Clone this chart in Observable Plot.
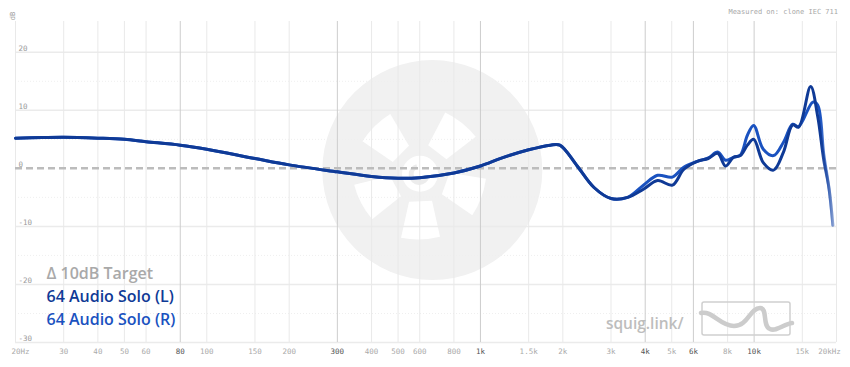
<!DOCTYPE html>
<html><head><meta charset="utf-8">
<script src="https://cdn.jsdelivr.net/npm/d3@7"></script>
<script src="https://cdn.jsdelivr.net/npm/@observablehq/plot@0.6"></script>
<style>
html,body{margin:0;padding:0;background:#fff;}
#chart{position:relative;width:850px;height:367px;overflow:hidden;}
</style>
</head><body><div id="chart"></div>
<script>
// ---- data ----
const sharedFreq = [20,25,30,40,50,60,80,100,150,200,300,400,500,600,800,1000,1200,1500,1800,1950,2250,2600,3000,3450];
const sharedDb   = [5.2,5.3,5.35,5.2,5.0,4.6,4.0,3.3,1.7,0.6,-0.6,-1.4,-1.7,-1.6,-0.8,0.4,1.8,3.2,4.0,4.0,0.5,-3.3,-5.2,-5.0];

const hiFreqL = [3940,4440,5030,5530,6200,6800,7360,7860,8410,8910,9450,9960,10800,11780,12800,13830,14540,16090,17070,17960,18800,19400];
const hiDbL   = [-3.6,-2.1,-2.9,-0.2,1.2,1.7,2.6,0.4,1.9,2.2,4.0,5.0,1.0,-0.3,2.8,7.5,7.1,14.1,9.0,1.5,-3.6,-9.8];

const hiFreqR = [3940,4440,5030,5530,6200,6800,7360,7860,8410,8910,9450,9960,10800,11780,12800,13830,14540,16380,17070,17960,18800,19400];
const hiDbR   = [-2.9,-1.2,-1.5,0.2,1.2,1.8,2.8,1.4,1.9,2.3,5.7,7.4,3.3,2.2,4.5,7.6,7.2,11.4,10.9,2.5,-3.6,-9.8];

const xTicks      = [20,30,40,50,60,80,100,150,200,300,400,500,600,800,1000,1500,2000,3000,4000,5000,6000,8000,10000,15000,20000];
const xTickLabels = ["20Hz","30","40","50","60","80","100","150","200","300","400","500","600","800","1k","1.5k","2k","3k","4k","5k","6k","8k","10k","15k","20kHz"];
const xMajor      = [80,300,1000,4000,6000,10000];
const yTicks      = [20,10,0,-10,-20,-30];
const yMinor      = [15,5,-5,-15,-25];

const legendNames  = ["\u0394 10dB Target","64 Audio Solo (L)","64 Audio Solo (R)"];
const legendColors = ["#a9a9a9","#0f3a96","#1a52c0"];
const colorL = "#0f3a96", colorR = "#1a52c0";

// ---- build ----
const L = sharedFreq.map((f,i)=>({f, d:sharedDb[i]})).concat(hiFreqL.map((f,i)=>({f, d:hiDbL[i]})));
const R = sharedFreq.map((f,i)=>({f, d:sharedDb[i]})).concat(hiFreqR.map((f,i)=>({f, d:hiDbR[i]})));
const ticks = xTicks.map((v,i)=>({v, label:xTickLabels[i], major:xMajor.includes(v), i}));
const mono = "DejaVu Sans Mono, monospace";
const sans = "Open Sans, Noto Sans, sans-serif";

const chart = Plot.plot({
  width: 850, height: 367,
  marginLeft: 15, marginRight: 14, marginTop: 21, marginBottom: 25,
  x: {type: "log", domain: [20, 20000], axis: null},
  y: {domain: [-30, 25.3], axis: null},
  style: {background: "#fff", overflow: "visible"},
  marks: [
    // watermark disc
    Plot.dot([{f: 667, d: -0.3}], {x: "f", y: "d", r: 110, fill: "#f1f1f1", stroke: null}),
    Plot.ruleY(yMinor, {stroke: "#efefef", strokeWidth: 1, strokeDasharray: "1,2"}),
    Plot.ruleY(yTicks.filter(d => d !== 0), {stroke: "#ebebeb", strokeWidth: 1.5}),
    Plot.ruleX(xTicks.filter(v => !xMajor.includes(v)), {stroke: "#e9e9e9", strokeWidth: 1}),
    Plot.ruleX(xMajor, {stroke: "#cdcdcd", strokeWidth: 1}),
    Plot.ruleY([0], {stroke: "#bcbcbc", strokeWidth: 2.5, strokeDasharray: "7,4"}),
    Plot.line(R, {x: "f", y: "d", stroke: "url(#fadeR)", strokeWidth: 3, curve: "catmull-rom"}),
    Plot.line(L, {x: "f", y: "d", stroke: "url(#fadeL)", strokeWidth: 3, curve: "catmull-rom"}),
    // y tick labels
    Plot.text(yTicks, {y: d => d, text: d => String(d), frameAnchor: "left", dx: 3, dy: -4,
      textAnchor: "start", fontFamily: mono, fontSize: 7.5, fill: "#9a9a9a"}),
    // x tick labels
    Plot.text(ticks, {x: "v", text: "label", frameAnchor: "bottom", dy: 11,
      fontFamily: mono, fontSize: 7.5,
      fill: d => d.major ? "#555" : "#aaa",
      fontWeight: d => d.major ? "bold" : "normal"}),
    // legend
    ...legendNames.map((name, i) => Plot.text([name], {
      text: d => d, frameAnchor: "bottom-left", dx: 31, dy: [-64, -41, -18][i],
      textAnchor: "start", fontFamily: sans, fontSize: 16, fontWeight: 600, fill: legendColors[i]
    })),
    // squig.link
    Plot.text(["squig.link/"], {text: d => d, frameAnchor: "bottom-right", dx: -153, dy: -14,
      textAnchor: "end", fontFamily: sans, fontSize: 15.5, fontWeight: 600, fill: "#bdbdbd"})
  ]
});

const svg = d3.select(chart);
const sx = chart.scale("x"), sy = chart.scale("y");

// fading line ends
const defs = svg.insert("defs", ":first-child");
[["fadeL", colorL], ["fadeR", colorR]].forEach(([id, c]) => {
  const g = defs.append("linearGradient").attr("id", id).attr("gradientUnits", "userSpaceOnUse")
    .attr("x1", sx.apply(17500)).attr("x2", sx.apply(19600)).attr("y1", 0).attr("y2", 0);
  g.append("stop").attr("offset", 0).attr("stop-color", c).attr("stop-opacity", 1);
  g.append("stop").attr("offset", 1).attr("stop-color", c).attr("stop-opacity", 0.25);
});

// fix end tick labels inward
svg.selectAll("text").each(function() {
  const t = d3.select(this);
  if (t.text() === "20Hz") t.attr("transform", (this.getAttribute("transform")||"") + " translate(5,0)");
  if (t.text() === "20kHz") t.attr("transform", (this.getAttribute("transform")||"") + " translate(-7,0)");
});

// watermark logo blades (decoration), placed through scales
const cx = sx.apply(604), cy = sy.apply(-1.0);
const dots = svg.selectAll("g[aria-label='dot']").node();
const wm = d3.select(dots.parentNode).insert("g", function(){ return dots.nextSibling; })
  .attr("transform", `translate(${cx},${cy})`).attr("fill", "#fff");
[-133, -50, 22, 90, 154].forEach(a => {
  wm.append("path")
    .attr("d", "M27,-12 L63,-20 Q68,0 64,19 L28,11 Z")
    .attr("transform", `rotate(${a})`);
});
wm.append("circle").attr("r", 18);
wm.append("path").attr("d", "M-3,-7 a8,8 0 1,0 10,9").attr("fill", "none").attr("stroke", "#ececec").attr("stroke-width", 5);

// squig logo box
const bx = 850 - 14 - 134, by = 367 - 25 - 40;
const lg = svg.append("g").attr("transform", `translate(${bx},${by})`);
lg.append("rect").attr("x", 0).attr("y", 0).attr("width", 88).attr("height", 33).attr("rx", 2)
  .attr("fill", "none").attr("stroke", "#cfcfcf").attr("stroke-width", 1.5);
lg.append("path").attr("d", "M-1,11 C10,8 18,24 32,24 C46,24 48,6 58,6 C66,6 60,24 68,27 C74,30 82,22 90,21")
  .attr("fill", "none").attr("stroke", "#cccccc").attr("stroke-width", 4.5).attr("stroke-linecap", "round");

// measured on
svg.append("text").attr("x", 838).attr("y", 14).attr("text-anchor", "end")
  .attr("font-family", mono).attr("font-size", 7).attr("fill", "#a8a8a8").text("Measured on: clone IEC 711");
// dB label
svg.append("text").attr("transform", "translate(15,16) rotate(-90)").attr("text-anchor", "middle")
  .attr("font-family", mono).attr("font-size", 7).attr("fill", "#999").text("dB");

document.getElementById("chart").appendChild(chart);
</script>
</body></html>
